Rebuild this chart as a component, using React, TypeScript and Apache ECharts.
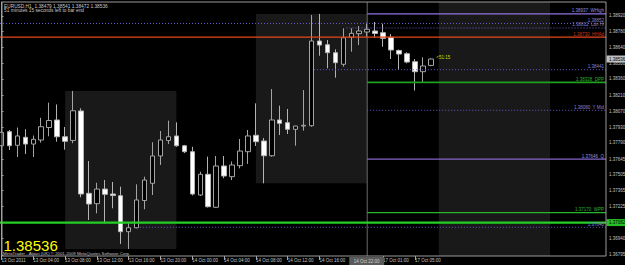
import React, { useEffect, useRef } from "react";
import * as echarts from "echarts";

// ---------- data ----------
const symbolName = "EURUSD,H1";
const timeLeftText = "51 minutes 15 seconds left to bar end";
const countdownText = "<51:15";
const copyrightText = "MetaTrader - Alpari (UK) \u00a9 2001-2009 MetaQuotes Software Corp.";
const firstTimeLabel = "13 Oct 2011";
const separatorLabel = "14 Oct 22:00";

const barTimes = [
  "13 Oct 00:00", "13 Oct 01:00", "13 Oct 02:00", "13 Oct 03:00", "13 Oct 04:00", "13 Oct 05:00",
  "13 Oct 06:00", "13 Oct 07:00", "13 Oct 08:00", "13 Oct 09:00", "13 Oct 10:00", "13 Oct 11:00",
  "13 Oct 12:00", "13 Oct 13:00", "13 Oct 14:00", "13 Oct 15:00", "13 Oct 16:00", "13 Oct 17:00",
  "13 Oct 18:00", "13 Oct 19:00", "13 Oct 20:00", "13 Oct 21:00", "13 Oct 22:00", "13 Oct 23:00",
  "14 Oct 00:00", "14 Oct 01:00", "14 Oct 02:00", "14 Oct 03:00", "14 Oct 04:00", "14 Oct 05:00",
  "14 Oct 06:00", "14 Oct 07:00", "14 Oct 08:00", "14 Oct 09:00", "14 Oct 10:00", "14 Oct 11:00",
  "14 Oct 12:00", "14 Oct 13:00", "14 Oct 14:00", "14 Oct 15:00", "14 Oct 16:00", "14 Oct 17:00",
  "14 Oct 18:00", "14 Oct 19:00", "14 Oct 20:00", "14 Oct 21:00", "14 Oct 22:00",
  "17 Oct 00:00", "17 Oct 01:00", "17 Oct 02:00", "17 Oct 03:00", "17 Oct 04:00", "17 Oct 05:00",
  "17 Oct 06:00", "17 Oct 07:00",
];
const futureSlots = 22;

const opens = [
  1.37765, 1.37890, 1.37769, 1.37840, 1.37780, 1.37816, 1.37927, 1.37994, 1.37845, 1.37812,
  1.38074, 1.37342, 1.37250, 1.37380, 1.37336, 1.37321, 1.37001, 1.37036, 1.37278, 1.37431,
  1.37674, 1.37812, 1.37852, 1.37765, 1.37712, 1.37327, 1.37511, 1.37218, 1.37585, 1.37490,
  1.37588, 1.37712, 1.37858, 1.37807, 1.37676, 1.37994, 1.37970, 1.37911, 1.37940, 1.37943,
  1.38696, 1.38663, 1.38592, 1.38489, 1.38729, 1.38761, 1.38776, 1.38785, 1.38770, 1.38729,
  1.38612, 1.38583, 1.38512, 1.38423, 1.38479,
];
const closes = [
  1.37884, 1.37765, 1.37852, 1.37780, 1.37822, 1.37934, 1.37989, 1.37845, 1.37804, 1.38076,
  1.37336, 1.37247, 1.37380, 1.37333, 1.37322, 1.37001, 1.37036, 1.37283, 1.37460, 1.37674,
  1.37816, 1.37845, 1.37765, 1.37712, 1.37336, 1.37511, 1.37223, 1.37585, 1.37496, 1.37594,
  1.37718, 1.37852, 1.37801, 1.37676, 1.37994, 1.37964, 1.37911, 1.37940, 1.37947, 1.38696,
  1.38660, 1.38592, 1.38503, 1.38725, 1.38764, 1.38785, 1.38800, 1.38763, 1.38720, 1.38616,
  1.38580, 1.38509, 1.38423, 1.38474, 1.38536,
];
const lows = [
  1.37754, 1.37727, 1.37665, 1.37692, 1.37665, 1.37792, 1.37849, 1.37801, 1.37730, 1.37787,
  1.37307, 1.37105, 1.37164, 1.37076, 1.37209, 1.36892, 1.36847, 1.37031, 1.37200, 1.37327,
  1.37594, 1.37780, 1.37756, 1.37700, 1.37323, 1.37318, 1.37216, 1.37212, 1.37476, 1.37460,
  1.37564, 1.37603, 1.37763, 1.37431, 1.37668, 1.37860, 1.37869, 1.37765, 1.37899, 1.37934,
  1.38565, 1.38453, 1.38370, 1.38468, 1.38601, 1.38660, 1.38734, 1.38727, 1.38645, 1.38536,
  1.38438, 1.38498, 1.38256, 1.38332, 1.38472,
];
const highs = [
  1.37896, 1.37905, 1.37927, 1.37912, 1.37856, 1.38013, 1.38148, 1.38132, 1.37932, 1.38252,
  1.38098, 1.37629, 1.37436, 1.37460, 1.37443, 1.37401, 1.37076, 1.37422, 1.37490, 1.37796,
  1.37896, 1.37988, 1.37973, 1.37772, 1.37756, 1.37534, 1.37668, 1.37674, 1.37674, 1.37625,
  1.37825, 1.37905, 1.38142, 1.37834, 1.38269, 1.38121, 1.38092, 1.37942, 1.38260, 1.38927,
  1.38937, 1.38705, 1.38622, 1.38809, 1.38809, 1.38829, 1.38859, 1.38865, 1.38850, 1.38758,
  1.38620, 1.38596, 1.38536, 1.38551, 1.38541,
];

// price scale tick labels
const priceTicks = [
  1.38920, 1.38780, 1.38640, 1.38500, 1.38360, 1.38210, 1.38070, 1.37930,
  1.37790, 1.37645, 1.37505, 1.37365, 1.37225, 1.37085, 1.36940, 1.36795,
];
const priceMin = 1.367849;
const priceMax = 1.390427;

// session boxes (bar index ranges)
const sessionStart = [8, 32, 55];
const sessionEnd = [22, 46, 69];

// horizontal levels
const levelPrice = [1.38937, 1.38852, 1.38812, 1.38730, 1.38441, 1.38328, 1.38080, 1.37646, 1.37170, 1.37082, 1.37040];
const levelFrom = [46, -0.5, 43.4, -0.5, 39.3, 46, 46, 46, 46, -0.5, 17.4];
const levelText = [
  "1.38937  WHigh", "1.38852", "1.38812  Ldn Hi", "1.38730  HHAd", "1.38441",
  "1.38328  DPP", "1.38080  Y Mid", "1.37646  Q", "1.37170  WPP", "", "1.37040",
];
const separatorBar = 46;
const hiddenTimeLabel = 44; // covered by the separator's time tag
const markedLevel = 1.37082;

// ---------- styles ----------
const FONT = "'Liberation Sans', Arial, sans-serif";
const BAR_STEP = 7.95;
const GRID_LEFT = -2.475;
const GRID_TOP = 2;
const GRID_HEIGHT = 254;
const AXIS_OFFSET = -3.675;
const PURPLE = "#8f74e0";
const DOT = "#6a5acd";
const levelStyle = [
  { color: PURPLE, width: 1.3, dash: null as any, text: "#9a8cd6" },
  { color: DOT, width: 1, dash: [1, 2], text: "#8a80c8" },
  { color: DOT, width: 1, dash: [1, 2], text: "#8a80c8" },
  { color: "#e8461e", width: 1.3, dash: null, text: "#c83818" },
  { color: DOT, width: 1, dash: [1, 2], text: "#8a80c8" },
  { color: "#1fa01f", width: 1.6, dash: null, text: "#30b030" },
  { color: DOT, width: 1, dash: [1, 2], text: "#8a80c8" },
  { color: "#8466c8", width: 1.4, dash: null, text: "#9a8cd6" },
  { color: "#2ab42a", width: 1.3, dash: null, text: "#30b030" },
  { color: "#25d025", width: 2.4, dash: null, text: "#30b030" },
  { color: DOT, width: 1, dash: [1, 2], text: "#8a80c8" },
];

export default function App() {
  const ref = useRef<HTMLDivElement>(null);

  useEffect(() => {
    const el = ref.current;
    if (!el) return;
    document.body.style.margin = "0";
    document.body.style.background = "#000";
    const chart = echarts.init(el, null, { renderer: "svg" });

    const n = opens.length;
    const categories = barTimes.concat(Array.from({ length: futureSlots }, (_, i) => "+" + (i + 1)));
    const total = categories.length;
    const candleData = opens.map((o, i) => [o, closes[i], lows[i], highs[i]]);
    const lastO = opens[n - 1], lastC = closes[n - 1], lastL = lows[n - 1], lastH = highs[n - 1];
    const showTime = (i: number) => i % 4 === 0 && i < n && i !== hiddenTimeLabel;

    const sessionData = sessionStart.map((s, k) => {
      const e = sessionEnd[k];
      let hi = -Infinity, lo = Infinity;
      for (let i = s; i <= e && i < n; i++) {
        hi = Math.max(hi, highs[i]);
        lo = Math.min(lo, lows[i]);
      }
      if (!isFinite(hi)) { hi = priceMax; lo = priceMin; }
      return [s, e, hi, lo];
    });

    const option: any = {
      animation: false,
      backgroundColor: "#000000",
      grid: {
        left: GRID_LEFT, top: GRID_TOP, width: total * BAR_STEP, height: GRID_HEIGHT,
        containLabel: false, outerBoundsMode: "none",
      },
      xAxis: [
        {
          type: "category", data: categories, boundaryGap: true,
          axisLine: { show: false },
          axisTick: {
            show: true, length: 4, alignWithLabel: true,
            interval: (i: number) => showTime(i),
            lineStyle: { color: "#a8a8a8", width: 1 },
          },
          axisLabel: {
            show: true, align: "left", margin: 1.5, color: "#c4c4c4", fontSize: 4.5, fontFamily: FONT,
            interval: (i: number) => showTime(i),
            formatter: (v: string, i: number) => (i === 0 ? firstTimeLabel : v),
          },
          splitLine: { show: false },
        },
        { type: "value", min: -0.5, max: total - 0.5, show: false },
      ],
      yAxis: {
        type: "value", position: "right", offset: AXIS_OFFSET, min: priceMin, max: priceMax,
        axisLine: { show: true, lineStyle: { color: "#a8a8a8", width: 1 } },
        axisTick: { show: true, length: 2, customValues: priceTicks, lineStyle: { color: "#a8a8a8" } },
        axisLabel: {
          show: true, customValues: priceTicks, margin: 3, color: "#c4c4c4", fontSize: 4.5, fontFamily: FONT,
          formatter: (v: number) => v.toFixed(5),
        },
        splitLine: { show: false },
      },
      series: [
        {
          type: "custom", name: "sessions", xAxisIndex: 1, yAxisIndex: 0, z: 1, silent: true,
          data: sessionData,
          renderItem: (params: any, api: any) => {
            const p1 = api.coord([api.value(0), api.value(2)]);
            const p2 = api.coord([api.value(1), api.value(3)]);
            return {
              type: "rect",
              shape: { x: p1[0], y: p1[1], width: p2[0] - p1[0], height: p2[1] - p1[1] },
              style: { fill: "#191919" },
            };
          },
        },
        {
          type: "custom", name: "separator", xAxisIndex: 1, yAxisIndex: 0, z: 2, silent: true,
          data: [[separatorBar]],
          renderItem: (params: any, api: any) => {
            const cs = params.coordSys;
            const x = api.coord([api.value(0), priceMax])[0];
            return {
              type: "line",
              shape: { x1: x, y1: cs.y, x2: x, y2: cs.y + cs.height },
              style: { stroke: "#6b6b6b", lineWidth: 1 },
            };
          },
        },
        {
          type: "candlestick", name: symbolName, xAxisIndex: 0, yAxisIndex: 0, z: 3,
          barWidth: 5,
          data: candleData,
          itemStyle: {
            color: "#000000", color0: "#ffffff",
            borderColor: "#a4a4a4", borderColor0: "#b4b4b4", borderWidth: 1,
          },
        },
        {
          type: "custom", name: "levels", xAxisIndex: 1, yAxisIndex: 0, z: 4, silent: true,
          data: levelPrice.map((p, i) => [levelFrom[i], p]),
          renderItem: (params: any, api: any) => {
            const i = params.dataIndex;
            const cs = params.coordSys;
            const st = levelStyle[i];
            const p = api.coord([api.value(0), api.value(1)]);
            const xEnd = cs.x + cs.width + AXIS_OFFSET;
            const children: any[] = [
              {
                type: "line",
                shape: { x1: Math.max(p[0], 0), y1: p[1], x2: xEnd, y2: p[1] },
                style: { stroke: st.color, lineWidth: st.width, lineDash: st.dash || undefined },
              },
            ];
            if (levelText[i]) {
              children.push({
                type: "text", x: xEnd - 2, y: p[1] - 0.6,
                style: {
                  text: levelText[i], fill: st.text, fontSize: 4.5, fontFamily: FONT,
                  align: "right", verticalAlign: "bottom",
                },
              });
            }
            return { type: "group", children };
          },
        },
        {
          type: "custom", name: "tags", xAxisIndex: 1, yAxisIndex: 0, z: 6, silent: true, clip: false,
          data: [[n - 1, lastC]],
          renderItem: (params: any, api: any) => {
            const cs = params.coordSys;
            const xAxisPos = cs.x + cs.width + AXIS_OFFSET;
            const last = api.coord([api.value(0), api.value(1)]);
            const mk = api.coord([0, markedLevel]);
            const sep = api.coord([separatorBar, priceMin]);
            const tag = (y: number, text: string, fill: string, color: string) => ({
              type: "group",
              children: [
                { type: "rect", shape: { x: xAxisPos + 0.5, y: y - 3.5, width: 22, height: 7 }, style: { fill } },
                {
                  type: "text", x: xAxisPos + 3, y,
                  style: { text, fill: color, fontSize: 4.5, fontFamily: FONT, align: "left", verticalAlign: "middle" },
                },
              ],
            });
            return {
              type: "group",
              children: [
                tag(last[1], lastC.toFixed(5), "#c0c0c0", "#000000"),
                tag(mk[1], markedLevel.toFixed(5), "#25c025", "#000000"),
                {
                  type: "text", x: last[0] + 5.5, y: last[1] - 1.5,
                  style: { text: countdownText, fill: "#d8d800", fontSize: 4.5, fontFamily: FONT, align: "left", verticalAlign: "middle" },
                },
                { type: "rect", shape: { x: sep[0] - 18, y: sep[1] + 1, width: 35, height: 8 }, style: { fill: "#5a5a5a" } },
                {
                  type: "text", x: sep[0] - 0.5, y: sep[1] + 5,
                  style: { text: separatorLabel, fill: "#cfcfcf", fontSize: 4.5, fontFamily: FONT, align: "center", verticalAlign: "middle" },
                },
              ],
            };
          },
        },
      ],
      graphic: [
        {
          type: "rect", z: 100, silent: true,
          shape: { x: 2, y: 2, width: 604, height: 254 },
          style: { fill: "none", stroke: "#9a9a9a", lineWidth: 1 },
        },
        {
          type: "text", z: 100, left: 4, top: 3.6,
          style: {
            text: `${symbolName}  ${lastO.toFixed(5)} ${lastH.toFixed(5)} ${lastL.toFixed(5)} ${lastC.toFixed(5)}`,
            fill: "#c8c8c8", fontSize: 4.8, fontFamily: FONT,
          },
        },
        {
          type: "text", z: 100, left: 4, top: 7.8,
          style: { text: timeLeftText, fill: "#c8c8c8", fontSize: 4.8, fontFamily: FONT },
        },
        {
          type: "text", z: 100, left: 3.5, top: 237.8,
          style: { text: lastC.toFixed(5), fill: "#ffff00", fontSize: 15, lineHeight: 11, fontFamily: FONT },
        },
        {
          type: "text", z: 100, left: 3, top: 251.4,
          style: { text: copyrightText, fill: "#c0c0c0", fontSize: 4.3, fontFamily: FONT },
        },
      ],
    };

    chart.setOption(option);
    return () => chart.dispose();
  }, []);

  return (
    <div
      ref={ref}
      style={{ position: "absolute", left: 0, top: 0, width: 625, height: 265, background: "#000" }}
    />
  );
}
